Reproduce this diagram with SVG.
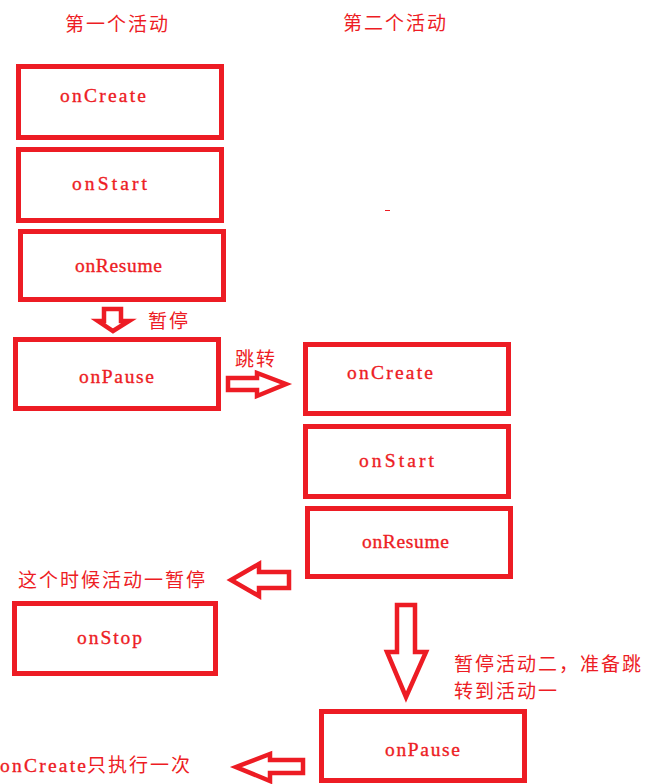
<svg xmlns="http://www.w3.org/2000/svg" width="670" height="784" viewBox="0 0 670 784">
<style>
.box{fill:none;stroke:#ED1C24;stroke-width:5}
.arr{fill:#fff;stroke:#ED1C24;stroke-width:4.5;stroke-linejoin:miter}
.lbl{font-family:"Liberation Serif",serif;font-size:19.5px;fill:#ED1C24;stroke:#ED1C24;stroke-width:0.35}
.cn{font-family:"Noto Sans CJK SC","Noto Sans",sans-serif;font-size:19px;fill:#ED1C24;letter-spacing:2px}
</style>
<rect width="670" height="784" fill="#fff"/>
<g id="titles">
<text class="cn" x="65" y="31">第一个活动</text>
<text class="cn" x="343" y="30">第二个活动</text>
</g>
<g id="a1-onCreate"><rect class="box" x="18.5" y="66.5" width="203" height="71"/><text class="lbl" x="60" y="102" textLength="86" lengthAdjust="spacing">onCreate</text></g>
<g id="a1-onStart"><rect class="box" x="18.5" y="149.5" width="203" height="71"/><text class="lbl" x="72" y="190" textLength="75" lengthAdjust="spacing">onStart</text></g>
<g id="a1-onResume"><rect class="box" x="20.5" y="231.5" width="203" height="68"/><text class="lbl" x="75" y="272" textLength="87" lengthAdjust="spacing">onResume</text></g>
<g id="a1-onPause"><rect class="box" x="15.5" y="339.5" width="203" height="69"/><text class="lbl" x="79" y="383" textLength="75" lengthAdjust="spacing">onPause</text></g>
<g id="a1-onStop"><rect class="box" x="14.5" y="603.5" width="201" height="70"/><text class="lbl" x="77" y="644" textLength="65" lengthAdjust="spacing">onStop</text></g>
<g id="a2-onCreate"><rect class="box" x="305.5" y="344.5" width="203" height="69"/><text class="lbl" x="347" y="379" textLength="86" lengthAdjust="spacing">onCreate</text></g>
<g id="a2-onStart"><rect class="box" x="305.5" y="426.5" width="203" height="70"/><text class="lbl" x="359" y="467" textLength="75" lengthAdjust="spacing">onStart</text></g>
<g id="a2-onResume"><rect class="box" x="307.5" y="508.5" width="203" height="68"/><text class="lbl" x="362" y="548" textLength="87" lengthAdjust="spacing">onResume</text></g>
<g id="a2-onPause"><rect class="box" x="321.5" y="711.5" width="203" height="69"/><text class="lbl" x="385" y="756" textLength="75" lengthAdjust="spacing">onPause</text></g>
<g id="connectors">
<polygon class="arr" points="104,309 121,309 121,321 129,321 113,331 98,321 104,321"/>
<polygon class="arr" points="228,378 257,378 257,373 286,384 257,396 257,390 228,390"/>
<polygon class="arr" points="289,572 289,588 259,588 259,596 231,580 259,564 259,572"/>
<polygon class="arr" points="397,605 415,605 415,652 426,652 406,697 387,652 397,652"/>
<polygon class="arr" points="303,760 303,773 270,773 270,781 236,767 270,754 270,760"/>
</g>
<g id="notes">
<text class="cn" x="148" y="328">暂停</text>
<text class="cn" x="235" y="366">跳转</text>
<text class="cn" x="18" y="587">这个时候活动一暂停</text>
<text class="cn" x="454" y="671">暂停活动二，准备跳</text>
<text class="cn" x="454" y="698">转到活动一</text>
<text y="772"><tspan class="lbl" x="0" textLength="86" lengthAdjust="spacing">onCreate</tspan><tspan class="cn" x="87">只执行一次</tspan></text>
</g>
<rect x="385" y="210" width="5" height="1" fill="#ED1C24"/>
</svg>
